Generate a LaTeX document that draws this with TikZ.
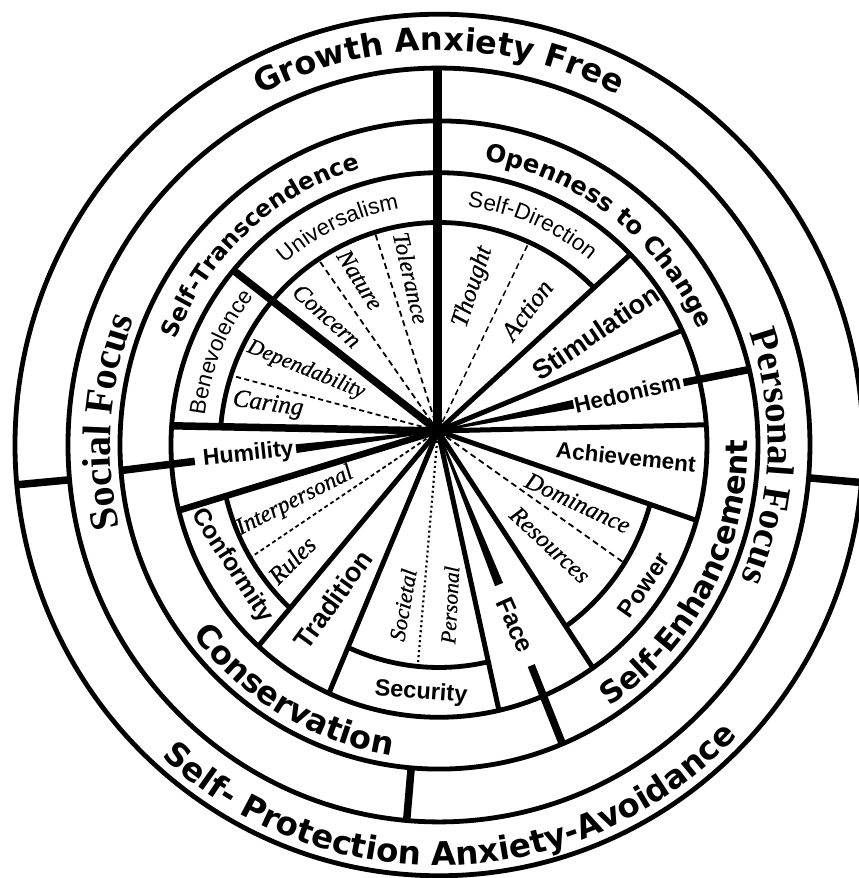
\documentclass[tikz,border=0pt]{standalone}
\usepackage{fontspec}
\setmainfont{Liberation Serif}
\newfontfamily\dvsfam{DejaVu Sans}
\newfontfamily\lasfam{Liberation Sans}
\newfontfamily\lserfam{Liberation Serif}
\newfontfamily\itfam{Liberation Serif}[FakeBold=0.7]
\usetikzlibrary{calc,decorations.text}
\newcommand\hvy[1]{\dvsfam\bfseries\fontsize{#1}{#1}\selectfont}
\newcommand\arl[1]{\lasfam\fontsize{#1}{#1}\selectfont}
\newcommand\arb[1]{\lasfam\bfseries\fontsize{#1}{#1}\selectfont}
\newcommand\itl[1]{\itfam\itshape\fontsize{#1}{#1}\selectfont}
\newcommand\srb[1]{\lserfam\bfseries\fontsize{#1}{#1}\selectfont}
% ray from S=(-1,13.8) at angle #1 meeting circle of radius #2 about O
\newcommand\raycalc[2]{%
  \pgfmathsetmacro\myRb{(-cos(#1)+13.8*sin(#1))/100}%
  \pgfmathsetmacro\myRt{100*(-\myRb+sqrt(\myRb*\myRb-0.019144+(#2/100)*(#2/100)))}%
  \pgfmathsetmacro\myPhi{atan2(13.8+\myRt*sin(#1),-1+\myRt*cos(#1))}%
}
\newcommand\spokeline[4][]{%
  \raycalc{#2}{#3}%
  \coordinate (#4) at ($(S)+(#2:\myRt)$);
  \draw[spk,#1] (S) -- (#4);
}
\newcommand\innerarc[3]{%
  \raycalc{#1}{219}\let\myPhiA\myPhi
  \raycalc{#2}{219}\let\myPhiB\myPhi
  \draw[ring] (\myPhiA:219) coordinate (#3) arc[start angle=\myPhiA,end angle=\myPhiB,radius=219];
}
\newcommand\taper[3]{%
  \coordinate (#3) at ($(S)+(#1:#2)$);
  \fill ($(S)+({#1+90}:0.8)$) -- ($(S)+({#1-90}:0.8)$) -- ($(#3)+({#1-90}:4.3)$) -- ($(#3)+({#1+90}:4.3)$) -- cycle;
}
\newcommand\outerseg[4]{%
  \raycalc{#1}{319}%
  \coordinate (#3) at ($(S)+(#1:#2)$);
  \coordinate (#4) at ($(S)+(#1:\myRt)$);
  \draw[bigspk] (#3) -- (#4);
}
\begin{document}
\begin{tikzpicture}[x=1pt,y=1.016pt,
  ring/.style={line width=4.8pt},
  spk/.style={line width=5pt},
  bigspk/.style={line width=7.5pt},
  topspk/.style={line width=9pt},
  subdash/.style={line width=1.8pt,dash pattern=on 6pt off 4pt},
  subdot/.style={line width=2.2pt,dash pattern=on 2pt off 3pt},
  lbl/.style={inner sep=0pt}]
\useasboundingbox (-439,-426.2) rectangle (420,438);
\fill[white] (-439,-426.2) rectangle (420,438);
\coordinate (O) at (0,0);
\coordinate (S) at (-1,13.8);
% rings
\draw[ring] (O) circle[radius=424];
\draw[ring] (O) circle[radius=371];
\draw[ring] (O) circle[radius=319];
\draw[ring] (O) circle[radius=268];
% dividers in outer bands
\coordinate (dLa) at (185.3:371); \coordinate (dLb) at (185.3:424);
\draw[bigspk] (dLa) -- (dLb);
\coordinate (dRa) at (-5:371); \coordinate (dRb) at (-5:430);
\draw[bigspk] (dRa) -- (dRb);
\coordinate (dBa) at (265:319); \coordinate (dBb) at (265:371);
\draw[bigspk] (dBa) -- (dBb);
% spokes
\spokeline[topspk]{90}{371}{top}
\spokeline[subdash,line width=1.5pt]{63.9}{219}{ta}
\spokeline{42.1}{268}{sdst}
\spokeline{22.1}{268}{sthe}
\spokeline{1.3}{268}{heac}
\spokeline{-18.8}{268}{acpo}
\spokeline[subdash]{-34.9}{219}{dore}
\spokeline{-56.4}{268}{pofa}
\spokeline{-77.5}{268}{fase}
\spokeline[subdot]{-95}{219}{sope}
\spokeline{-112.9}{268}{setr}
\spokeline{-130.3}{268}{trco}
\spokeline[subdash,dash pattern=on 4pt off 3pt]{-146.4}{219}{inru}
\spokeline[line width=6.5pt]{-163.2}{268}{cohu}
\spokeline[bigspk]{178.9}{268}{hube}
\spokeline[subdash,dash pattern=on 5pt off 3.5pt]{165.2}{219}{cade}
\spokeline[bigspk]{142.3}{268}{beun}
\spokeline[subdash]{125.3}{219}{cona}
\spokeline[subdash]{107.9}{219}{nato}
% boundary values on spokes
\taper{11}{138}{hedI}
\outerseg{11}{250}{hedA}{hedB}
\taper{-68}{163}{faceI}
\outerseg{-68}{249}{faceA}{faceB}
\taper{-173}{143}{humI}
\outerseg{-173}{245}{humA}{humB}
% inner arcs
\innerarc{142.3}{90}{arcU}
\innerarc{90}{42.1}{arcSD}
\innerarc{178.9}{142.3}{arcB}
\innerarc{-18.8}{-56.4}{arcP}
\innerarc{-77.5}{-112.9}{arcS}
\innerarc{-130.3}{-163.2}{arcC}
% outer band texts
\path[decorate,decoration={text along path,text align=center,text={|\hvy{32}|Growth Anxiety Free}}]
  (160:388) arc[start angle=160,end angle=20,radius=388];
\path[decorate,decoration={text along path,text align=center,text={|\hvy{32.5}|Self- Protection Anxiety-Avoidance}}]
  (195:414) arc[start angle=195,end angle=349,radius=414];
\path[decorate,decoration={text along path,text align=center,text={|\srb{40}|Social Focus}}]
  (215:329) arc[start angle=215,end angle=137,radius=329];
\path[decorate,decoration={text along path,text align=center,text={|\srb{39}|Personal Focus}}]
  (40:329) arc[start angle=40,end angle=-44,radius=329];
% higher-order values
\path[decorate,decoration={text along path,text align=center,text={|\hvy{23.5}|Self-Transcendence}}]
  (205:283) arc[start angle=205,end angle=59,radius=283];
\path[decorate,decoration={text along path,text align=center,text={|\hvy{24.5}|Openness to Change}}]
  (125:283) arc[start angle=125,end angle=-20,radius=283];
\path[decorate,decoration={text along path,text align=center,text={|\hvy{30.5}|Self-Enhancement}}]
  (-100:309) arc[start angle=-100,end angle=44,radius=309];
\path[decorate,decoration={text along path,text align=center,text={|\hvy{32}|Conservation}}]
  (165:309) arc[start angle=165,end angle=314,radius=309];
% value names on arcs
\path[decorate,decoration={text along path,text align=center,text={|\arl{22.5}|Universalism}}]
  (185:236) arc[start angle=185,end angle=45,radius=236];
\path[decorate,decoration={text along path,text align=center,text={|\arl{22.5}|Self-Direction}}]
  (137:236) arc[start angle=137,end angle=-3,radius=236];
\path[decorate,decoration={text along path,text align=center,text={|\arl{22.5}|Benevolence}}]
  (227:236) arc[start angle=227,end angle=87,radius=236];
% value names, straight
\node[lbl,rotate=34,font=\arb{27}] (stim) at (157,111) {Stimulation};
\node[lbl,rotate=13,font=\arb{22.5}] (hed) at ($(S)+(11:193)$) {Hedonism};
\node[lbl,rotate=-6,font=\arb{22.5}] (ach) at (187,-11.8) {Achievement};
\node[lbl,rotate=55,font=\arb{24}] (pow) at (205,-137.8) {Power};
\node[lbl,rotate=-66,font=\arb{25}] (face) at ($(S)+(-68:206)$) {Face};
\node[lbl,rotate=-4,font=\arb{23.5}] (sec) at (-18,-244.1) {Security};
\node[lbl,rotate=54,font=\arb{27}] (trad) at (-106,-152) {Tradition};
\node[lbl,rotate=-57,font=\arb{24.5}] (conf) at (-207,-119.1) {Conformity};
\node[lbl,rotate=6,font=\arb{23}] (hum) at ($(S)+(-173:191)$) {Humility};
% sub-values
\node[lbl,rotate=72,font=\itl{25}] (thought) at (34,155.5) {Thought};
\node[lbl,rotate=53,font=\itl{26}] (action) at (88,132.9) {Action};
\node[lbl,rotate=-77,font=\itl{23.5}] (tol) at (-28,164.4) {Tolerance};
\node[lbl,rotate=-58,font=\itl{24}] (nat) at (-79,162.4) {Nature};
\node[lbl,rotate=-42,font=\itl{24}] (conc) at (-112,127) {Concern};
\node[lbl,rotate=-22,font=\itl{22}] (dep) at (-133,73.8) {Dependability};
\node[lbl,rotate=-8,font=\itl{25}] (car) at (-171,39.4) {Caring};
\node[lbl,rotate=27,font=\itl{23.5}] (inter) at (-144,-55.1) {Interpersonal};
\node[lbl,rotate=45,font=\itl{25}] (rules) at (-147,-113.2) {Rules};
\node[lbl,rotate=80,font=\itl{22.5}] (soc) at (-36,-157.5) {Societal};
\node[lbl,rotate=87,font=\itl{21.5}] (pers) at (11,-157.5) {Personal};
\node[lbl,rotate=-25,font=\itl{24.5}] (dom) at (139,-57.1) {Dominance};
\node[lbl,rotate=-43,font=\itl{24.5}] (res) at (111,-98.4) {Resources};
\end{tikzpicture}
\end{document}
